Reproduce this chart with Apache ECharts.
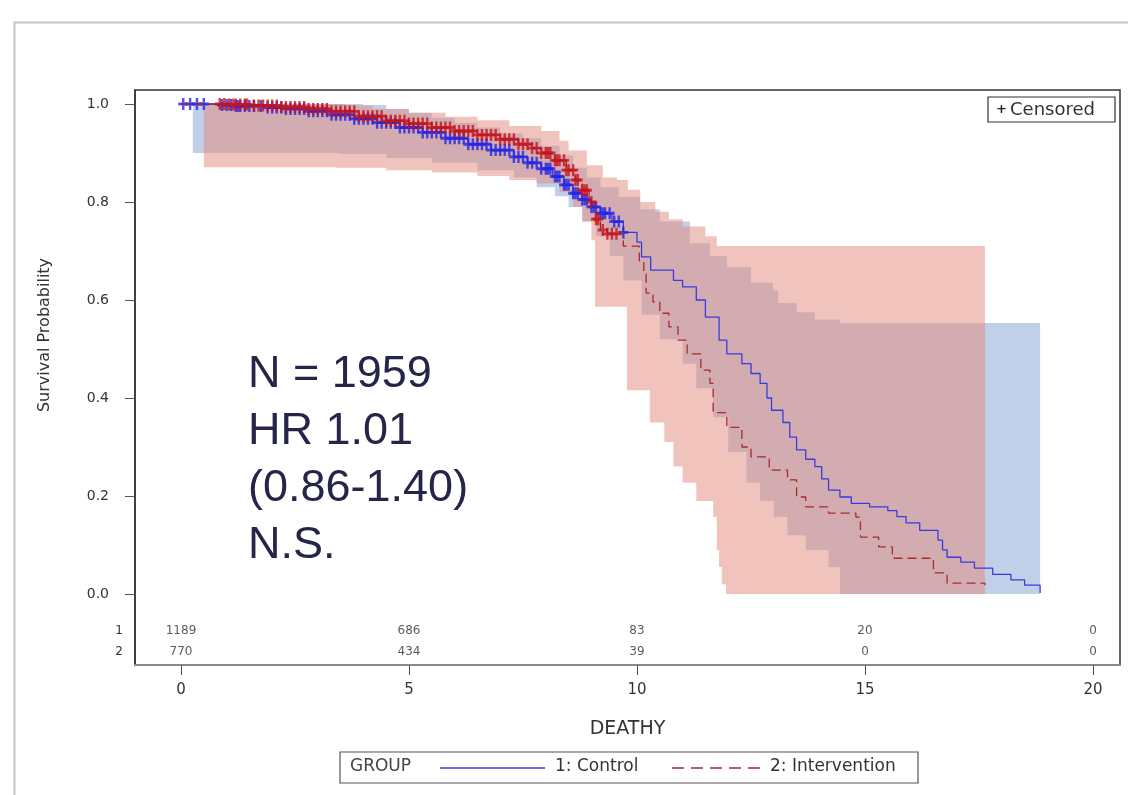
<!DOCTYPE html>
<html><head><meta charset="utf-8">
<script src="https://cdn.jsdelivr.net/npm/echarts@6/dist/echarts.min.js"></script>
<style>html,body{margin:0;padding:0;background:#fff}#c{width:1128px;height:795px}</style>
</head><body><div id="c"></div>
<script>
// ---------- DATA ----------
const xTicks = [0, 5, 10, 15, 20];
const yTicks = [0, 0.2, 0.4, 0.6, 0.8, 1.0];
const groupTitle = 'GROUP';
const groupNames = ['1: Control', '2: Intervention'];
const atRiskControl = [1189, 686, 83, 20, 0];
const atRiskIntervention = [770, 434, 39, 0, 0];
const annotation = ['N = 1959', 'HR 1.01', '(0.86-1.40)', 'N.S.'];

// Kaplan-Meier step points [time, survival]
const controlCurve = [[0,1.0],[0.6,0.998],[1.2,0.996],[1.8,0.993],[2.3,0.99],[2.8,0.985],[3.3,0.978],[3.8,0.97],[4.3,0.962],[4.8,0.952],[5.3,0.942],[5.8,0.93],[6.3,0.918],[6.8,0.906],[7.3,0.892],[7.6,0.88],[7.9,0.868],[8.15,0.852],[8.4,0.835],[8.6,0.818],[8.8,0.805],[9.0,0.79],[9.2,0.777],[9.45,0.76],[9.7,0.738],[10.0,0.718],[10.1,0.688],[10.3,0.661],[10.8,0.64],[11.0,0.627],[11.3,0.6],[11.5,0.565],[11.8,0.518],[11.97,0.49],[12.3,0.47],[12.5,0.45],[12.7,0.43],[12.85,0.40],[12.95,0.375],[13.2,0.35],[13.35,0.32],[13.5,0.294],[13.7,0.275],[13.9,0.26],[14.05,0.235],[14.2,0.212],[14.45,0.198],[14.7,0.185],[15.1,0.178],[15.5,0.17],[15.7,0.158],[15.9,0.145],[16.2,0.13],[16.6,0.11],[16.7,0.09],[16.8,0.075],[17.1,0.065],[17.4,0.053],[17.8,0.04],[18.2,0.029],[18.5,0.018],[18.84,0.002]];
const interventionCurve = [[0,1.0],[1.0,0.999],[1.6,0.997],[2.2,0.994],[2.8,0.99],[3.3,0.985],[3.9,0.975],[4.5,0.966],[5.0,0.96],[5.5,0.952],[6.0,0.945],[6.5,0.937],[7.0,0.928],[7.4,0.918],[7.7,0.91],[7.9,0.9],[8.2,0.885],[8.45,0.865],[8.65,0.845],[8.8,0.824],[8.95,0.8],[9.1,0.765],[9.2,0.743],[9.35,0.735],[9.7,0.71],[10.05,0.68],[10.15,0.655],[10.2,0.614],[10.35,0.596],[10.5,0.573],[10.7,0.545],[10.9,0.518],[11.1,0.49],[11.4,0.457],[11.6,0.43],[11.67,0.37],[11.97,0.34],[12.3,0.30],[12.5,0.28],[12.9,0.253],[13.3,0.233],[13.5,0.198],[13.7,0.178],[14.2,0.165],[14.8,0.157],[14.9,0.116],[15.3,0.096],[15.6,0.073],[16.5,0.043],[16.8,0.022],[17.63,0.018]];

// confidence bands (step points)
const controlUpper = [[0.26,1.0],[4.0,0.998],[4.5,0.99],[5.0,0.982],[5.5,0.972],[6.0,0.962],[6.5,0.952],[7.0,0.94],[7.5,0.93],[7.9,0.915],[8.3,0.895],[8.6,0.87],[8.9,0.85],[9.2,0.83],[9.6,0.81],[10.07,0.785],[10.5,0.76],[11.16,0.716],[11.6,0.69],[11.97,0.667],[12.5,0.635],[12.98,0.62],[13.1,0.594],[13.5,0.575],[13.9,0.56],[14.45,0.553]];
const controlLower = [[0.26,0.90],[3.5,0.898],[4.5,0.89],[5.5,0.88],[6.5,0.865],[7.3,0.85],[7.8,0.83],[8.2,0.812],[8.5,0.79],[8.8,0.76],[9.1,0.73],[9.4,0.69],[9.7,0.64],[10.1,0.57],[10.5,0.52],[11.0,0.47],[11.3,0.42],[11.67,0.36],[12.0,0.29],[12.4,0.227],[12.7,0.19],[13.0,0.157],[13.3,0.12],[13.7,0.09],[14.2,0.055],[14.45,0.0]];
const controlBandEnd = 18.84;
const interventionUpper = [[0.5,1.0],[3.0,1.0],[3.6,0.997],[4.2,0.99],[5.0,0.982],[5.8,0.974],[6.5,0.967],[7.2,0.955],[7.9,0.945],[8.3,0.925],[8.5,0.905],[8.9,0.875],[9.25,0.85],[9.56,0.845],[9.8,0.825],[10.07,0.80],[10.4,0.78],[10.7,0.765],[11.0,0.75],[11.5,0.73],[11.75,0.71]];
const interventionLower = [[0.5,0.871],[3.4,0.87],[4.5,0.865],[5.5,0.86],[6.5,0.853],[7.2,0.845],[7.8,0.838],[8.3,0.82],[8.6,0.79],[8.8,0.76],[9.0,0.722],[9.08,0.586],[9.78,0.416],[10.28,0.35],[10.6,0.31],[10.8,0.26],[11.0,0.227],[11.3,0.19],[11.67,0.157],[11.75,0.09],[11.8,0.055],[11.86,0.02],[11.95,0.0]];
const interventionBandEnd = 17.63;

// censoring times
const controlCensor = [0.05,0.2,0.35,0.5,0.9,1.0,1.1,1.2,1.25,1.3,1.4,1.5,1.6,1.75,1.9,2.0,2.1,2.2,2.3,2.4,2.5,2.6,2.7,2.8,2.9,3.0,3.1,3.2,3.3,3.4,3.5,3.6,3.7,3.8,3.9,4.0,4.1,4.2,4.3,4.4,4.5,4.6,4.7,4.8,4.9,5.0,5.1,5.2,5.3,5.4,5.5,5.6,5.7,5.8,5.9,6.0,6.1,6.2,6.3,6.4,6.5,6.6,6.7,6.8,6.9,7.0,7.1,7.2,7.3,7.4,7.5,7.6,7.7,7.8,7.9,8.0,8.05,8.1,8.2,8.25,8.3,8.4,8.45,8.5,8.6,8.65,8.7,8.8,8.85,8.9,9.0,9.05,9.1,9.2,9.25,9.3,9.4,9.5,9.6,9.7];
const interventionCensor = [0.85,0.95,1.05,1.15,1.2,1.3,1.4,1.45,1.6,1.7,1.8,1.9,2.0,2.1,2.2,2.3,2.4,2.5,2.6,2.7,2.8,2.9,3.0,3.1,3.2,3.3,3.4,3.5,3.6,3.7,3.8,3.9,4.0,4.1,4.2,4.3,4.4,4.5,4.6,4.7,4.8,4.9,5.0,5.1,5.2,5.3,5.4,5.5,5.6,5.7,5.8,5.9,6.0,6.1,6.2,6.3,6.4,6.5,6.6,6.7,6.8,6.9,7.0,7.1,7.2,7.3,7.4,7.5,7.6,7.7,7.8,7.9,8.0,8.05,8.1,8.2,8.25,8.3,8.4,8.45,8.5,8.6,8.65,8.7,8.8,8.85,8.9,9.0,9.1,9.15,9.25,9.35,9.45,9.55];

// ---------- LAYOUT / STYLE ----------
const FONT = 'DejaVu Sans';
const ROW1 = -0.0755, ROW2 = -0.1184;
const rowLabelValues = [ROW2, ROW1];
const C_BLUE = '#3a3ade', C_RED = '#a82a2a';

function stepValue(curve, t){
  let v = curve[0][1];
  for (const p of curve){ if (p[0] <= t) v = p[1]; else break; }
  return v;
}
function stepPath(pts, tEnd){
  const out = [];
  for (let i = 0; i < pts.length; i++){
    if (i > 0) out.push([pts[i][0], pts[i-1][1]]);
    out.push(pts[i]);
  }
  out.push([tEnd, pts[pts.length-1][1]]);
  return out;
}
function bandRender(upper, lower, tEnd, fill){
  return function(params, api){
    const up = stepPath(upper, tEnd);
    const lo = stepPath(lower, tEnd).reverse();
    const pts = up.concat(lo).map(p => api.coord(p));
    return {type:'polygon', shape:{points:pts}, style:{fill:fill}};
  };
}
const plusPath = 'path://M3.8,0H6.2V3.8H10V6.2H6.2V10H3.8V6.2H0V3.8H3.8Z';

const chart = echarts.init(document.getElementById('c'), null, {renderer:'canvas'});
chart.setOption({
  backgroundColor:'#ffffff',
  animation:false,
  grid:{left:135, top:90, width:985, height:575, show:true, borderColor:'#333', borderWidth:1.5, containLabel:false},
  xAxis:{
    type:'value', min:-1.0088, max:20.592,
    name:'DEATHY', nameLocation:'middle', nameGap:55,
    nameTextStyle:{fontFamily:FONT, fontSize:19, color:'#333'},
    axisLine:{show:true, onZero:false, lineStyle:{color:'#8a8a8a', width:2}},
    axisTick:{show:true, length:10, customValues:xTicks, lineStyle:{color:'#555'}},
    axisLabel:{customValues:xTicks, margin:18, fontFamily:FONT, fontSize:15, color:'#333'},
    splitLine:{show:false}
  },
  yAxis:{
    type:'value', min:-0.1449, max:1.0286,
    axisLine:{show:true, onZero:false, lineStyle:{color:'#333', width:1.5}},
    axisTick:{show:true, length:10, customValues:yTicks, lineStyle:{color:'#555'}},
    axisLabel:{
      customValues: rowLabelValues.concat(yTicks), margin:12,
      formatter: function(v){
        if (Math.abs(v-ROW1) < 1e-6) return '{r|1}';
        if (Math.abs(v-ROW2) < 1e-6) return '{r|2}';
        return '{n|' + v.toFixed(1) + '}';
      },
      rich:{
        n:{fontFamily:FONT, fontSize:14, color:'#333', padding:[0,14,0,0]},
        r:{fontFamily:FONT, fontSize:12, color:'#333'}
      }
    },
    splitLine:{show:false}
  },
  graphic:[
    {type:'rect', left:12, top:20, shape:{x:0,y:0,width:1130,height:800}, style:{fill:'none', stroke:'#c4c4c4', lineWidth:2}, silent:true, z:-10},
    // bottom legend
    {type:'rect', shape:{x:340,y:752,width:578,height:31}, style:{fill:'none', stroke:'#555', lineWidth:1.2}, silent:true},
    {type:'text', x:350, y:767, style:{text:groupTitle, fontFamily:FONT, fontSize:17, fill:'#444', verticalAlign:'middle'}, silent:true},
    {type:'line', shape:{x1:440,y1:768,x2:545,y2:768}, style:{stroke:C_BLUE, lineWidth:1.4}, silent:true},
    {type:'text', x:555, y:767, style:{text:groupNames[0], fontFamily:FONT, fontSize:17, fill:'#333', verticalAlign:'middle'}, silent:true},
    {type:'line', shape:{x1:672,y1:768,x2:760,y2:768}, style:{stroke:C_RED, lineWidth:1.4, lineDash:[12,7]}, silent:true},
    {type:'text', x:770, y:767, style:{text:groupNames[1], fontFamily:FONT, fontSize:17, fill:'#333', verticalAlign:'middle'}, silent:true},
    // y title
    {type:'text', x:45, y:335, rotation:Math.PI/2, style:{text:'Survival Probability', fontFamily:FONT, fontSize:16, fill:'#333', align:'center', verticalAlign:'middle'}, silent:true},
    // censored box
    {type:'rect', shape:{x:988,y:97,width:127,height:25}, style:{fill:'#fff', stroke:'#333', lineWidth:1.2}, z:20, silent:true},
    {type:'text', x:996, y:110, style:{text:'+', fontFamily:FONT, fontSize:13, fontWeight:'bold', fill:'#222', verticalAlign:'middle'}, z:21, silent:true},
    {type:'text', x:1010, y:110, style:{text:'Censored', fontFamily:FONT, fontSize:18, fill:'#333', verticalAlign:'middle'}, z:21, silent:true},
    // annotation
    {type:'text', x:248, y:346, style:{text:annotation.join('\n'), fontFamily:'Liberation Sans', fontSize:45, lineHeight:57, fill:'#25254a', verticalAlign:'top'}, z:15, silent:true}
  ],
  series:[
    {type:'custom', name:'bandC', silent:true, clip:true, z:1, data:[[0,0]],
      renderItem: bandRender(controlUpper, controlLower, controlBandEnd, '#c2cfe9')},
    {type:'custom', name:'bandI', silent:true, clip:true, z:2, data:[[0,0]],
      renderItem: bandRender(interventionUpper, interventionLower, interventionBandEnd, 'rgba(226,138,122,0.5)')},
    {type:'line', name:groupNames[0], data:controlCurve, step:'end', symbol:'none', z:3,
      lineStyle:{color:C_BLUE, width:1.3}, itemStyle:{color:C_BLUE}},
    {type:'scatter', name:'cC', data:controlCensor.map(t => [t, stepValue(controlCurve, t)]), symbol:plusPath, symbolSize:[10,12], z:4,
      itemStyle:{color:'#2626e6'}, silent:true},
    {type:'line', name:groupNames[1], data:interventionCurve, step:'end', symbol:'none', z:5,
      lineStyle:{color:C_RED, width:1.3, type:[9,5]}, itemStyle:{color:C_RED}},
    {type:'scatter', name:'cI', data:interventionCensor.map(t => [t, stepValue(interventionCurve, t)]), symbol:plusPath, symbolSize:[10,12], z:6,
      itemStyle:{color:'#c4141e'}, silent:true},
    {type:'scatter', name:'riskC', data:xTicks.map((t,i)=>[t, ROW1, atRiskControl[i]]), symbolSize:1, itemStyle:{color:'rgba(0,0,0,0)'}, z:7, silent:true,
      label:{show:true, position:'inside', formatter:p=>String(p.value[2]), fontFamily:FONT, fontSize:12, color:'#333'}},
    {type:'scatter', name:'riskI', data:xTicks.map((t,i)=>[t, ROW2, atRiskIntervention[i]]), symbolSize:1, itemStyle:{color:'rgba(0,0,0,0)'}, z:7, silent:true,
      label:{show:true, position:'inside', formatter:p=>String(p.value[2]), fontFamily:FONT, fontSize:12, color:'#333'}}
  ]
});
</script></body></html>
